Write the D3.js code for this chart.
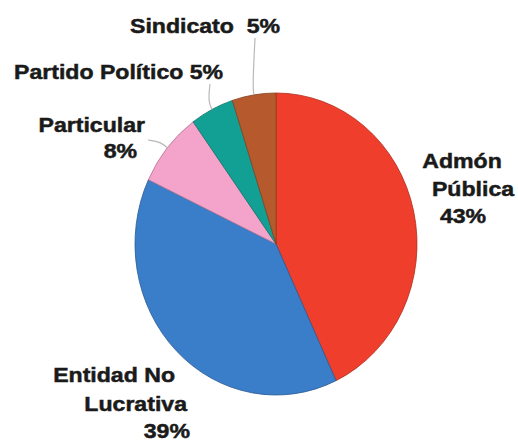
<!DOCTYPE html>
<html>
<head>
<meta charset="utf-8">
<script src="https://cdn.jsdelivr.net/npm/d3@7"></script>
<style>
html,body{margin:0;padding:0;background:#fff;}
svg{display:block;}
text{font-family:"Liberation Sans",Arial,sans-serif;font-weight:bold;font-size:21px;fill:#1a1a1a;stroke:#1a1a1a;stroke-width:0.5px;}
</style>
</head>
<body>
<svg id="chart" width="518" height="444"></svg>
<script>
// Data (clockwise from 12 o'clock)
const categories = ["Admón Pública", "Entidad No Lucrativa", "Particular", "Partido Político", "Sindicato"];
const values = [43, 39, 8, 5, 5];
const colors = ["#EF3E2C", "#3A7DC9", "#F4A3CB", "#13A094", "#B65A2E"];
const labelLines = [
  ["Admón", "Pública", "43%"],
  ["Entidad No", "Lucrativa", "39%"],
  ["Particular", "8%"],
  ["Partido Político 5%"],
  ["Sindicato\u00A0\u00A05%"]
];

// Layout
const W = 518, H = 444;
const cx = 276, cy = 244, R = 141, yStretch = 151 / 141;
const sx = 1.1; // horizontal text stretch of the original
const labelLayout = [
  {anchor: "middle", lines: [[462, 168], [473, 196], [463, 223]], leader: null},
  {anchor: "end", lines: [[175, 382], [187, 411], [190, 438]], leader: null},
  {anchor: "end", lines: [[145, 132], [137, 158]], leader: [148, 140]},
  {anchor: "start", lines: [[14, 79]], leader: [210, 84]},
  {anchor: "start", lines: [[130, 33]], leader: [255, 38]}
];

const svg = d3.select("#chart");
const data = categories.map((c, i) => ({name: c, value: values[i], color: colors[i], lines: labelLines[i], layout: labelLayout[i]}));

const pie = d3.pie().sort(null).value(d => d.value);
const arcs = pie(data);
const arc = d3.arc().innerRadius(0).outerRadius(R);

const g = svg.append("g").attr("transform", `translate(${cx},${cy}) scale(1,${yStretch})`);
g.selectAll("path.slice")
  .data(arcs)
  .enter().append("path")
  .attr("class", "slice")
  .attr("d", arc)
  .attr("fill", d => d.data.color)
  .attr("stroke", d => d3.color(d.data.color).darker(0.9))
  .attr("stroke-width", 0.8)
  .attr("vector-effect", "non-scaling-stroke");

// Leader lines
arcs.forEach(a => {
  const lay = a.data.layout;
  if (!lay.leader) return;
  const mid = (a.startAngle + a.endAngle) / 2;
  const ex = cx + Math.sin(mid) * R, ey = cy - Math.cos(mid) * R * yStretch;
  const bx = cx + Math.sin(mid) * R * 1.06, by = cy - Math.cos(mid) * R * 1.06 * yStretch;
  svg.append("path")
    .attr("d", d3.line().curve(d3.curveBasis)([[ex, ey], [bx, by], lay.leader]))
    .attr("fill", "none")
    .attr("stroke", "#b8b8b8")
    .attr("stroke-width", 1.2);
});

// Labels
arcs.forEach(a => {
  const lay = a.data.layout;
  a.data.lines.forEach((line, j) => {
    const [x, y] = lay.lines[j];
    svg.append("text")
      .attr("transform", `translate(${x},${y}) scale(${sx},1)`)
      .attr("text-anchor", lay.anchor)
      .text(line);
  });
});
</script>
</body>
</html>
